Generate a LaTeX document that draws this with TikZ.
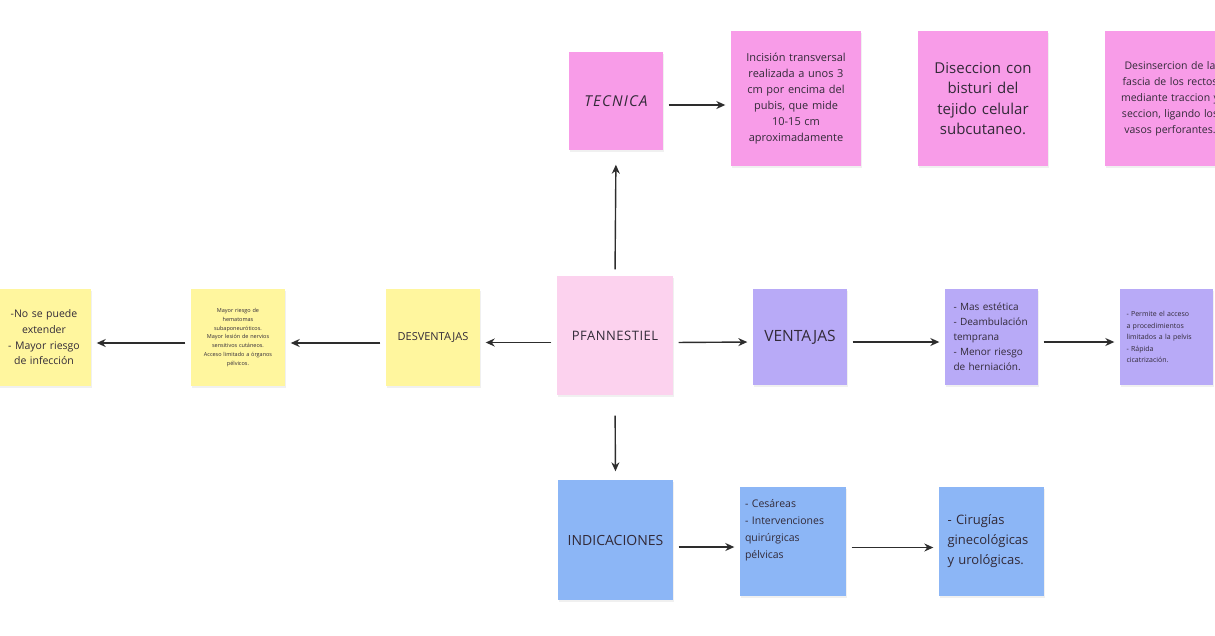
\documentclass[tikz,border=0pt]{standalone}
\usepackage{fontspec}
\setmainfont{Open Sans}
\usetikzlibrary{shadows,arrows.meta}
\tikzset{
    every picture/.style={
        line width=1.4pt
    },
    % Style for the sticky notes
    note/.style={
        rectangle, inner sep=0pt, text=noteText,
        drop shadow={opacity=0.12, shadow xshift=0.6pt, shadow yshift=-1.6pt}
    },
    % Style for the arrows between notes
    link/.style={
        -{Stealth[length=9pt,width=8pt]}, draw=linkGray, line width=1.4pt,
        shorten >=5pt, shorten <=5pt
    }
}
\definecolor{tecPink}{RGB}{248,156,232}
\definecolor{mainPink}{RGB}{252,210,238}
\definecolor{noteYellow}{RGB}{255,246,158}
\definecolor{notePurple}{RGB}{184,170,247}
\definecolor{noteBlue}{RGB}{140,182,246}
\definecolor{noteText}{RGB}{50,42,56}
\definecolor{linkGray}{RGB}{45,45,45}

\begin{document}
\begin{tikzpicture}[x=1pt,y=-1pt]

% Set the canvas size
\path[use as bounding box] (0,0) rectangle (1215,635);

% Central note
\node[note, fill=mainPink, minimum width=116, minimum height=119,
      font=\fontsize{13}{15}\selectfont\addfontfeatures{LetterSpace=4}] (pfann) at (615,335.5) {PFANNESTIEL};

% Upper branch: tecnica
\node[note, fill=tecPink, minimum width=94, minimum height=98,
      font=\itshape\fontsize{15}{17}\selectfont\addfontfeatures{LetterSpace=8}] (tecnica) at (616,101) {TECNICA};
\node[note, fill=tecPink, minimum width=130, minimum height=135, text width=126, align=center,
      font=\fontsize{11}{16}\selectfont] (incision) at (796,98.5)
      {Incisión transversal\\ realizada a unos 3\\ cm por encima del\\ pubis, que mide\\ 10-15 cm\\ aproximadamente};
\node[note, fill=tecPink, minimum width=130, minimum height=135, text width=126, align=center,
      font=\fontsize{15}{20.5}\selectfont] (diseccion) at (983,98.5)
      {Diseccion con\\ bisturi del\\ tejido celular\\ subcutaneo.};
\node[note, fill=tecPink, minimum width=130, minimum height=135, text width=126, align=center,
      font=\fontsize{10.5}{16}\selectfont] (desinsercion) at (1170,98.5)
      {Desinsercion de la\\ fascia de los rectos\\ mediante traccion y\\ seccion, ligando los\\ vasos perforantes.};

% Left branch: desventajas
\node[note, fill=noteYellow, minimum width=94, minimum height=97,
      font=\fontsize{11}{13}\selectfont] (desventajas) at (433,337.5) {DESVENTAJAS};
\node[note, fill=noteYellow, minimum width=94, minimum height=97, text width=90, align=center,
      font=\fontsize{5.5}{8.8}\selectfont] (riesgos) at (238,337.5)
      {Mayor riesgo de\\ hematomas\\ subaponeuróticos.\\ Mayor lesión de nervios\\ sensitivos cutáneos.\\ Acceso limitado a órganos\\ pélvicos.};
\node[note, fill=noteYellow, minimum width=94, minimum height=97, text width=90, align=center,
      font=\fontsize{10.5}{15.7}\selectfont] (limites) at (44,337.5)
      {-No se puede\\ extender\\ - Mayor riesgo\\ de infección};

% Right branch: ventajas
\node[note, fill=notePurple, minimum width=94, minimum height=96,
      font=\fontsize{15.5}{18}\selectfont] (ventajas) at (800,337) {VENTAJAS};
\node[note, fill=notePurple, minimum width=93, minimum height=96, text width=76, align=left,
      font=\fontsize{10}{15}\selectfont] (beneficios) at (991.5,337)
      {- Mas estética\\ - Deambulación\\ temprana\\ - Menor riesgo\\ de herniación.};
\node[note, fill=notePurple, minimum width=93, minimum height=96, text width=80, align=left,
      font=\fontsize{7}{11.4}\selectfont] (acceso) at (1166.5,337)
      {- Permite el acceso\\ a procedimientos\\ limitados a la pelvis\\ - Rápida\\ cicatrización.};

% Lower branch: indicaciones
\node[note, fill=noteBlue, minimum width=115, minimum height=120,
      font=\fontsize{14}{16}\selectfont] (indicaciones) at (615.5,540) {INDICACIONES};
\node[note, fill=noteBlue, minimum width=106, minimum height=109, text width=96, align=left,
      text depth=77pt, font=\fontsize{10.5}{17}\selectfont] (cesareas) at (793,541.5)
      {- Cesáreas\\ - Intervenciones\\ quirúrgicas\\ pélvicas};
\node[note, fill=noteBlue, minimum width=105, minimum height=109, text width=88, align=left,
      font=\fontsize{13}{20}\selectfont] (cirugias) at (991.5,541.5)
      {- Cirugías\\ ginecológicas\\ y urológicas.};

% Draw all arrows
\draw[link, shorten <=6pt, shorten >=14pt] (pfann.north) -- (tecnica.south);
\draw[link] ([yshift=-4pt]tecnica.east) -- ([yshift=-4pt]tecnica.east -| incision.west);
\draw[link, shorten <=20pt, shorten >=8pt] (pfann.south) -- (indicaciones.north);
\draw[link] ([yshift=-7pt]indicaciones.east) -- ([yshift=-7pt]indicaciones.east -| cesareas.west);
\draw[link] ([yshift=-6pt]cesareas.east) -- ([yshift=-6pt]cesareas.east -| cirugias.west);
\draw[link] ([yshift=-7pt]pfann.west) -- ([yshift=-7pt]pfann.west -| desventajas.east);
\draw[link] ([yshift=-5.5pt]desventajas.west) -- ([yshift=-5.5pt]desventajas.west -| riesgos.east);
\draw[link] ([yshift=-5.5pt]riesgos.west) -- ([yshift=-5.5pt]riesgos.west -| limites.east);
\draw[link] ([yshift=-7pt]pfann.east) -- ([yshift=-5pt]ventajas.west);
\draw[link] ([yshift=-5pt]ventajas.east) -- ([yshift=-5pt]ventajas.east -| beneficios.west);
\draw[link] ([yshift=-5pt]beneficios.east) -- ([yshift=-5pt]beneficios.east -| acceso.west);

\end{tikzpicture}
\end{document}
